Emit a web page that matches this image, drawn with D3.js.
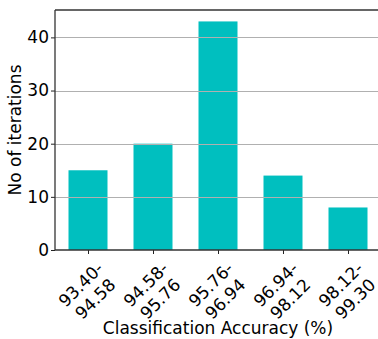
<!DOCTYPE html>
<html>
<head>
<meta charset="utf-8">
<script src="https://cdn.jsdelivr.net/npm/d3@7"></script>
<style>
  html, body { margin: 0; padding: 0; background: #fff; }
  svg { display: block; }
  text { font-family: "DejaVu Sans", sans-serif; fill: #000; }
</style>
</head>
<body>
<svg id="chart" width="378" height="339"></svg>
<script>
const categories = ["93.40-\n94.58", "94.58-\n95.76", "95.76-\n96.94", "96.94-\n98.12", "98.12-\n99.30"];
const counts = [15, 20, 43, 14, 8];
const yTicks = [0, 10, 20, 30, 40];
const xLabel = "Classification Accuracy (%)";
const yLabel = "No of iterations";

(function () {
const svg = d3.select("#chart");
const pLeft = 55, pRight = 381, pTop = 10, pBottom = 250;
const fs = 17;

const x = d3.scaleLinear().domain([-0.5077, categories.length - 1 + 0.5077]).range([pLeft, pRight]);
const y = d3.scaleLinear().domain([0, 45.15]).range([pBottom, pTop]);
const barW = (x(1) - x(0)) * 0.6;

// bars
svg.append("g").selectAll("rect").data(counts).join("rect")
  .attr("x", (d, i) => x(i) - barW / 2)
  .attr("y", d => y(d))
  .attr("width", barW)
  .attr("height", d => y(0) - y(d))
  .attr("fill", "#00bfbf");

// grid (drawn over bars)
svg.append("g").selectAll("line").data(yTicks.filter(t => t > 0)).join("line")
  .attr("x1", pLeft).attr("x2", pRight)
  .attr("y1", d => Math.round(y(d)) + 0.5).attr("y2", d => Math.round(y(d)) + 0.5)
  .attr("stroke", "#b0b0b0").attr("stroke-width", 1.1);

// y axis
const yAxis = d3.axisLeft(y).tickValues(yTicks).tickSize(4).tickPadding(2).tickFormat(d3.format("d"));
const yg = svg.append("g").attr("transform", `translate(${pLeft},0)`).call(yAxis);
yg.select(".domain").remove();
yg.selectAll(".tick line").attr("stroke", "#222").attr("stroke-width", 1);
yg.selectAll(".tick text").attr("font-size", fs).attr("font-family", "DejaVu Sans").attr("fill", "#000");

// x axis ticks
const xAxis = d3.axisBottom(x).tickValues(d3.range(categories.length)).tickSize(4).tickFormat("");
const xg = svg.append("g").attr("transform", `translate(0,${pBottom})`).call(xAxis);
xg.select(".domain").remove();
xg.selectAll(".tick line").attr("stroke", "#222").attr("stroke-width", 1);

// rotated multi-line tick labels
categories.forEach((c, i) => {
  const outer = svg.append("g");
  const inner = outer.append("g").attr("transform", "rotate(-45)");
  const t = inner.append("text").attr("font-size", fs).attr("text-anchor", "middle");
  c.split("\n").forEach((line, k) => {
    t.append("tspan").attr("x", 0).attr("dy", k === 0 ? 0 : fs * 1.2).text(line);
  });
  const bb = outer.node().getBBox();
  const tx = x(i) - (bb.x + bb.width / 2);
  const ty = pBottom + 8 - bb.y;
  outer.attr("transform", `translate(${tx},${ty})`);
});

// spines
svg.append("line").attr("x1", pLeft).attr("x2", pLeft).attr("y1", pTop).attr("y2", pBottom)
  .attr("stroke", "#333").attr("stroke-width", 1.3);
svg.append("line").attr("x1", pLeft).attr("x2", pRight).attr("y1", pBottom).attr("y2", pBottom)
  .attr("stroke", "#333").attr("stroke-width", 1.3);
svg.append("line").attr("x1", pLeft).attr("x2", pRight).attr("y1", pTop).attr("y2", pTop)
  .attr("stroke", "#333").attr("stroke-width", 1.3);

// axis labels
svg.append("text").attr("x", (pLeft + pRight) / 2).attr("y", 334)
  .attr("text-anchor", "middle").attr("font-size", fs).text(xLabel);
svg.append("text").attr("transform", `translate(21,${(pTop + pBottom) / 2}) rotate(-90)`)
  .attr("text-anchor", "middle").attr("font-size", fs).text(yLabel);
})();
</script>
</body>
</html>
